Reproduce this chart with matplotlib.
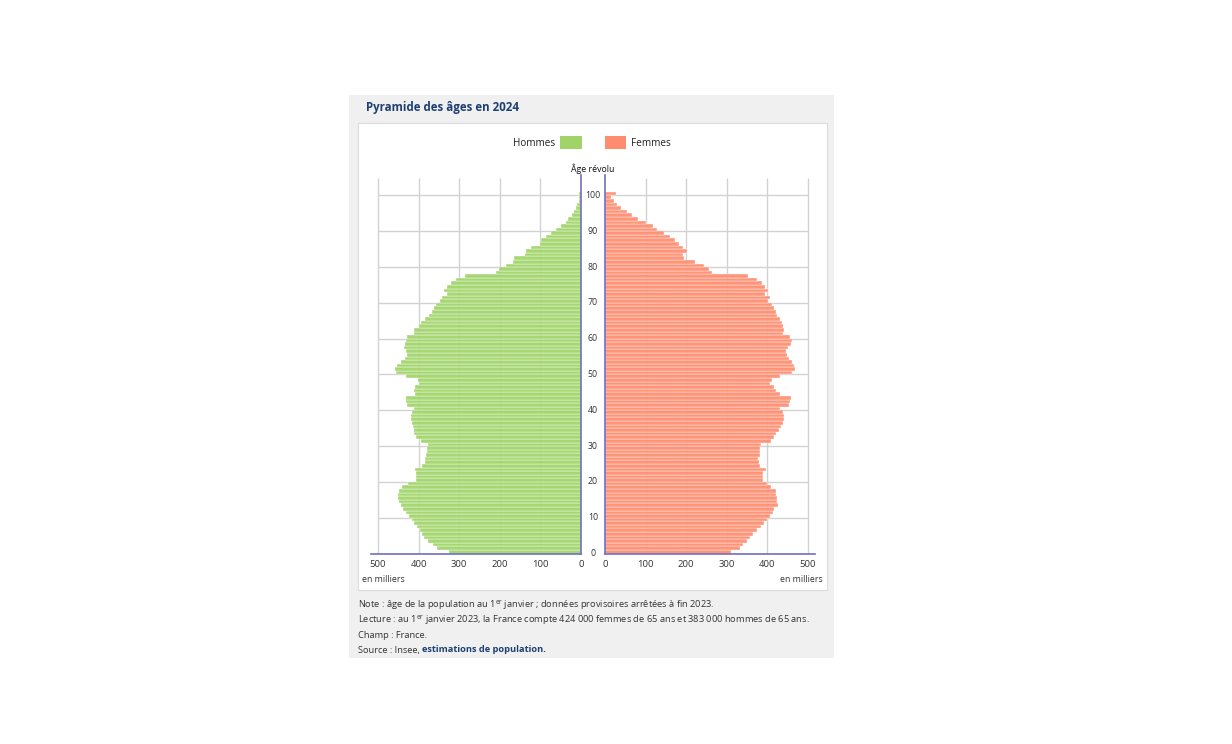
import numpy as np
import matplotlib
matplotlib.use("Agg")
import matplotlib.pyplot as plt
from matplotlib.patches import Rectangle

plt.rcParams['font.family'] = ['Open Sans', 'DejaVu Sans']
plt.rcParams['mathtext.fontset'] = 'custom'
plt.rcParams['mathtext.rm'] = 'Open Sans'

# ============================================
# DATA (thousands, age 0 .. 100+)
# ============================================
ages = np.arange(0, 101)

hommes = [
    325, 354, 365, 377, 386, 391, 397, 403, 410, 416,
    423, 430, 437, 444, 447, 450, 451, 449, 440, 425,
    406, 406, 407, 409, 392, 385, 383, 381, 379, 379,
    377, 395, 405, 410, 412, 414, 416, 419, 418, 415,
    412, 428, 430, 432, 408, 410, 408, 400, 401, 430,
    455, 459, 452, 443, 434, 428, 430, 436, 434, 432,
    428, 410, 411, 400, 395, 383, 374, 366, 361, 357,
    347, 343, 331, 337, 331, 320, 308, 285, 209, 201,
    185, 168, 164, 139, 135, 123, 102, 98, 86, 73,
    61, 49, 38, 31, 23, 18, 13, 10, 6, 5,
    6,
]

femmes = [
    311, 332, 340, 350, 357, 365, 374, 383, 392, 400,
    405, 413, 417, 426, 423, 423, 421, 421, 408, 400,
    389, 388, 388, 396, 381, 379, 376, 381, 382, 382,
    384, 408, 416, 422, 428, 433, 437, 440, 440, 437,
    432, 454, 456, 458, 432, 421, 417, 406, 412, 432,
    461, 467, 465, 461, 452, 448, 445, 450, 457, 461,
    456, 438, 440, 438, 436, 430, 424, 420, 416, 410,
    402, 405, 393, 402, 393, 387, 375, 352, 263, 255,
    243, 222, 195, 193, 202, 191, 181, 173, 160, 146,
    129, 117, 100, 82, 66, 53, 40, 29, 21, 15,
    26,
]

age_ticks = list(range(0, 101, 10))
x_ticks = [0, 100, 200, 300, 400, 500]

GREEN = "#a0d468"
ORANGE = "#ff8c6e"
AXIS = "#6f6fbf"
GRID = "#d2d2d2"
TITLE = "#1d3f72"

W, H = 1232, 744


def fx(px):
    return px / W


def fy(py):
    return 1 - py / H


fig = plt.figure(figsize=(W / 100, H / 100), dpi=100)

# background panels
fig.patches.append(Rectangle((fx(349), fy(658)), (834 - 349) / W, (658 - 95) / H,
                             transform=fig.transFigure, facecolor="#f0f0f0",
                             edgecolor="none", zorder=-2))
fig.patches.append(Rectangle((fx(358.5), fy(590)), (827 - 358.5) / W, (590 - 123) / H,
                             transform=fig.transFigure, facecolor="white",
                             edgecolor="#dcdcdc", linewidth=0.8, zorder=-1))

# ============================================
# AXES
# ============================================
y0, y1 = 553.5, 177.6
XMAX = 517
ax_l = fig.add_axes([fx(371), fy(y0), (581 - 371) / W, (y0 - y1) / H])
ax_r = fig.add_axes([fx(605), fy(y0), (815 - 605) / W, (y0 - y1) / H])

for ax, vals, col in [(ax_l, hommes, GREEN), (ax_r, femmes, ORANGE)]:
    ax.set_facecolor("none")
    ax.set_ylim(0, 105)
    ax.set_xlim(0, XMAX)
    # grid
    ax.hlines(age_ticks, 0, 500, color=GRID, linewidth=1, zorder=1)
    ax.vlines(x_ticks[1:], 0, 105, color=GRID, linewidth=1, zorder=1)
    ax.barh(ages, vals, height=1, align="edge", color=col, alpha=0.93,
            edgecolor=(1, 1, 1, 0.12), linewidth=0.3, zorder=2)
    ax.axhline(0, color=AXIS, linewidth=1.2, zorder=3, clip_on=False)
    ax.axvline(0, ymax=1.006, color=AXIS, linewidth=1.2, zorder=3, clip_on=False)
    for s in ax.spines.values():
        s.set_visible(False)
    ax.set_yticks([])
    ax.set_xticks(x_ticks)
    ax.set_xticklabels([str(t) for t in x_ticks])
    ax.tick_params(axis="x", length=0, pad=5, labelsize=6.8, labelcolor="#333333")

ax_l.invert_xaxis()

# age labels between the two halves
for t in age_ticks:
    ax_l.annotate(str(t), xy=(0, t), xytext=(12, 0), textcoords="offset pixels",
                  ha="center", va="center", fontsize=6.3, color="#333333",
                  annotation_clip=False)

fig.text(fx(593), fy(168.5), "Âge révolu", ha="center", va="center",
         fontsize=6.3, color="#111111")
fig.text(fx(362), fy(580), "en milliers", ha="left", va="center",
         fontsize=6.3, color="#333333")
fig.text(fx(823), fy(580), "en milliers", ha="right", va="center",
         fontsize=6.3, color="#333333")

# ============================================
# TITLE & LEGEND
# ============================================
fig.text(fx(365.5), fy(107), "Pyramide des âges en 2024", ha="left", va="center",
         fontsize=8.3, fontweight="bold", color=TITLE)

fig.patches.append(Rectangle((fx(560), fy(148.5)), 21.5 / W, 12.5 / H,
                             transform=fig.transFigure, facecolor=GREEN,
                             edgecolor="none"))
fig.patches.append(Rectangle((fx(604.5), fy(148.5)), 21.5 / W, 12.5 / H,
                             transform=fig.transFigure, facecolor=ORANGE,
                             edgecolor="none"))
fig.text(fx(555), fy(143), "Hommes", ha="right", va="center", fontsize=7.2,
         color="#222222")
fig.text(fx(631.5), fy(143), "Femmes", ha="left", va="center", fontsize=7.2,
         color="#222222")

# ============================================
# NOTES
# ============================================
note_kw = dict(ha="left", va="baseline", fontsize=6.7, color="#333333")
fig.text(fx(358), fy(607.5),
         "Note : âge de la population au 1$^{\\mathrm{er}}$ janvier ; données provisoires arrêtées à fin 2023.",
         **note_kw)
fig.text(fx(358), fy(622.5),
         "Lecture : au 1$^{\\mathrm{er}}$ janvier 2023, la France compte 424 000 femmes de 65 ans et 383 000 hommes de 65 ans.",
         **note_kw)
fig.text(fx(358), fy(637.5), "Champ : France.", **note_kw)
src = fig.text(fx(358), fy(652.5), "Source : Insee, ", **note_kw)
fig.canvas.draw()
bb = src.get_window_extent()
fig.text(bb.x1 / W, fy(652.5), "estimations de population.", fontsize=6.7,
         fontweight="bold", color=TITLE, ha="left", va="baseline")

fig.savefig("out.png", dpi=100)
